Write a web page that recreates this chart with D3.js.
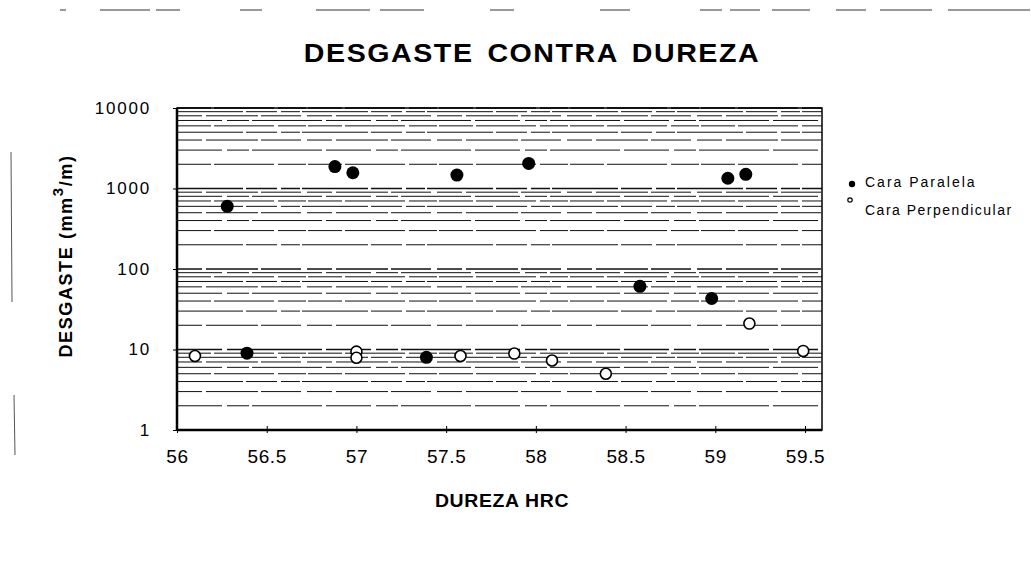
<!DOCTYPE html>
<html><head><meta charset="utf-8">
<script src="https://cdn.jsdelivr.net/npm/d3@7"></script>
<style>body{margin:0;background:#fff;}svg{display:block;font-family:Arial,"Liberation Sans",sans-serif;}</style>
</head><body><svg id="c" width="1031" height="562"></svg>
<script>
const xTicks = [56, 56.5, 57, 57.5, 58, 58.5, 59, 59.5];
const yTicks = [1, 10, 100, 1000, 10000];
const paralelaX = [56.28, 56.88, 56.98, 57.56, 57.96, 59.07, 59.17, 58.58, 58.98, 56.39, 57.39];
const paralelaY = [600, 1870, 1570, 1470, 2050, 1340, 1500, 61, 43, 9.0, 8.0];
const perpX = [56.1, 57.0, 57.0, 57.58, 57.88, 58.09, 58.39, 59.19, 59.49];
const perpY = [8.3, 9.4, 7.9, 8.3, 8.9, 7.3, 5.0, 21, 9.6];
const seriesNames = ["Cara Paralela", "Cara Perpendicular"];

const svg = d3.select("#c");
const x = d3.scaleLinear().domain([56, 59.5]).range([177, 805]);
const y = d3.scaleLog().domain([1, 10000]).range([430, 108]);
const plotL = 177, plotR = 822, plotT = 108, plotB = 430;

// scan-like decorations
const topSegs = [[30,33],[50,75],[78,90],[120,131],[158,185],[190,212],[245,257],[300,315],[350,361],[365,380],[386,405],[418,433],[440,466],[474,515]];
svg.append("g").selectAll("line").data(topSegs).join("line")
  .attr("x1", d => d[0]*2).attr("x2", d => d[1]*2).attr("y1", 10).attr("y2", 10)
  .attr("stroke", "#333").attr("stroke-width", 1);
svg.append("line").attr("x1",11).attr("x2",12).attr("y1",152).attr("y2",302).attr("stroke","#555");
svg.append("line").attr("x1",14).attr("x2",15).attr("y1",395).attr("y2",455).attr("stroke","#555");

// gridlines (major + minor log)
const grid = [];
for (let e = 0; e < 4; e++) for (let m = 1; m <= 9; m++) grid.push(m * Math.pow(10, e));
grid.push(10000);
svg.append("g").selectAll("line").data(grid).join("line")
  .attr("x1", plotL).attr("x2", plotR)
  .attr("y1", d => y(d)).attr("y2", d => y(d))
  .attr("stroke", "#111").attr("stroke-width", d => (Math.log10(d) % 1 === 0) ? 1.3 : 1)
  .attr("stroke-dasharray", (d,i) => ["34 3 60 4 28 2", "45 5 22 3 70 4", "25 4 52 3 40 6", "66 3 31 4 19 2"][i % 4]);

// frame
svg.append("rect").attr("x", plotL).attr("y", plotT).attr("width", plotR - plotL).attr("height", plotB - plotT)
  .attr("fill", "none").attr("stroke", "#000").attr("stroke-width", 1.5);
svg.append("line").attr("x1", plotL).attr("x2", plotR).attr("y1", plotB).attr("y2", plotB).attr("stroke", "#000").attr("stroke-width", 2.5);
svg.append("line").attr("x1", plotL).attr("x2", plotL).attr("y1", plotT).attr("y2", plotB).attr("stroke", "#000").attr("stroke-width", 2.5);

// axes
const xAxis = d3.axisBottom(x).tickValues(xTicks).tickSize(4).tickPadding(16).tickFormat(d => String(d));
const gx = svg.append("g").attr("transform", `translate(0,${plotB})`).call(xAxis);
gx.select(".domain").remove();
gx.selectAll(".tick line").attr("y1", -4).attr("y2", 3).attr("stroke", "#000");
gx.selectAll("text").attr("font-size", 19).attr("letter-spacing", 0.6).attr("fill", "#000");

const yAxis = d3.axisLeft(y).tickValues(yTicks).tickSize(4).tickPadding(22).tickFormat(d3.format("d"));
const gy = svg.append("g").attr("transform", `translate(${plotL},0)`).call(yAxis);
gy.select(".domain").remove();
gy.selectAll(".tick line").attr("stroke", "#000");
gy.selectAll("text").attr("font-size", 17).attr("letter-spacing", 1.8).attr("fill", "#000");

// points
svg.append("g").selectAll("circle").data(perpX.map((v, i) => [v, perpY[i]])).join("circle")
  .attr("cx", d => x(d[0])).attr("cy", d => y(d[1])).attr("r", 5.5)
  .attr("fill", "#fff").attr("stroke", "#000").attr("stroke-width", 1.6);
svg.append("g").selectAll("circle").data(paralelaX.map((v, i) => [v, paralelaY[i]])).join("circle")
  .attr("cx", d => x(d[0])).attr("cy", d => y(d[1])).attr("r", 6.5).attr("fill", "#000");

// title
svg.append("text").attr("transform", "translate(532,62) scale(1.1,1)").attr("text-anchor", "middle")
  .attr("font-size", 26).attr("font-weight", "bold").attr("letter-spacing", 1.4).attr("word-spacing", 4)
  .text("DESGASTE CONTRA DUREZA");

// axis titles
const yt = svg.append("text").attr("transform", "translate(72,256) rotate(-90)").attr("text-anchor", "middle")
  .attr("font-size", 18).attr("font-weight", "bold").attr("letter-spacing", 1.6);
yt.append("tspan").text("DESGASTE (mm");
yt.append("tspan").attr("font-size", 15).attr("dy", -9).text("3");
yt.append("tspan").attr("dy", 9).text("/m)");
svg.append("text").attr("transform", "translate(502,507) scale(1.08,1)").attr("text-anchor", "middle")
  .attr("font-size", 18).attr("font-weight", "bold").attr("letter-spacing", 0.6).text("DUREZA HRC");

// legend
const lg = svg.append("g");
lg.append("circle").attr("cx", 852).attr("cy", 184).attr("r", 3.2).attr("fill", "#000");
lg.append("circle").attr("cx", 850).attr("cy", 200).attr("r", 2.2).attr("fill", "none").attr("stroke", "#000").attr("stroke-width", 1.2);
lg.append("text").attr("x", 865).attr("y", 187).attr("font-size", 14).attr("letter-spacing", 2.0).text(seriesNames[0]);
lg.append("text").attr("x", 865).attr("y", 215).attr("font-size", 14).attr("letter-spacing", 1.5).text(seriesNames[1]);
</script></body></html>
